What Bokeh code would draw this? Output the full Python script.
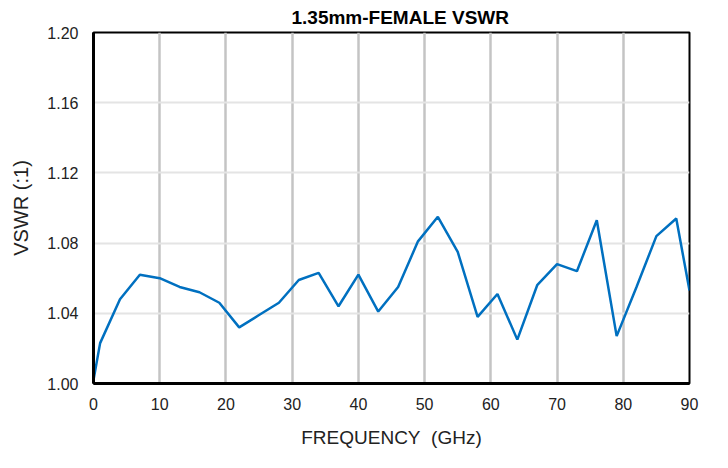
from bokeh.plotting import figure
from bokeh.models import Range1d, FixedTicker, NumeralTickFormatter
from bokeh.embed import file_html
from bokeh.resources import INLINE

freq_ghz = [0, 1, 4, 7, 10, 13, 16, 19, 22, 25, 28, 31, 34, 37, 40, 43, 46, 49,
            52, 55, 58, 61, 64, 67, 70, 73, 76, 79, 82, 85, 88, 90]
vswr = [1.002, 1.023, 1.048, 1.062, 1.060, 1.055, 1.052, 1.046, 1.032, 1.039,
        1.046, 1.059, 1.063, 1.044, 1.062, 1.041, 1.055, 1.081, 1.095, 1.075,
        1.038, 1.051, 1.025, 1.056, 1.068, 1.064, 1.093, 1.027, 1.055, 1.084,
        1.094, 1.053]
x_ticks = [0, 10, 20, 30, 40, 50, 60, 70, 80, 90]
y_ticks = [1.00, 1.04, 1.08, 1.12, 1.16, 1.20]

FONT = "Liberation Sans"

p = figure(width=712, height=452, output_backend="svg", toolbar_location=None,
           x_range=Range1d(0, 90), y_range=Range1d(1.0, 1.2),
           min_border_left=93, min_border_right=23, min_border_top=32,
           min_border_bottom=69)

p.title.text = "1.35mm-FEMALE VSWR"
p.title.align = "left"
p.title.text_font = FONT
p.title.text_font_size = "19px"
p.title.text_font_style = "bold"
p.title.text_color = "#000000"
p.title.offset = 198
p.title.standoff = 9

p.line(freq_ghz, vswr, line_color="#0070c0", line_width=2.5)

p.outline_line_color = "#000000"
p.outline_line_width = 2
p.outline_line_alpha = 1

for ax in (p.xaxis[0], p.yaxis[0]):
    ax.axis_line_color = "#000000"
    ax.axis_line_width = 3
    ax.major_tick_line_color = None
    ax.minor_tick_line_color = None
    ax.major_label_text_font = FONT
    ax.major_label_text_font_size = "16px"
    ax.major_label_text_color = "#222222"
    ax.axis_label_text_font = FONT
    ax.axis_label_text_font_style = "normal"
    ax.axis_label_text_color = "#222222"

p.xaxis.axis_label_text_font_size = "19px"
p.yaxis.axis_label_text_font_size = "20px"
p.xaxis.ticker = FixedTicker(ticks=x_ticks)
p.yaxis.ticker = FixedTicker(ticks=y_ticks)
p.yaxis.formatter = NumeralTickFormatter(format="0.00")
p.xaxis.axis_label = "FREQUENCY\u00a0\u00a0(GHz)"
p.yaxis.axis_label = "VSWR (:1)"
p.xaxis.major_label_standoff = 8
p.yaxis.major_label_standoff = 9
p.xaxis.axis_label_standoff = 14
p.yaxis.axis_label_standoff = 12

p.xgrid.ticker = FixedTicker(ticks=x_ticks[1:-1])
p.xgrid.grid_line_color = "#c4c4c4"
p.xgrid.grid_line_width = 2.5
p.ygrid.ticker = FixedTicker(ticks=y_ticks[1:-1])
p.ygrid.grid_line_color = "#e4e4e4"
p.ygrid.grid_line_width = 2

open("out.html", "w").write(file_html(p, INLINE))
